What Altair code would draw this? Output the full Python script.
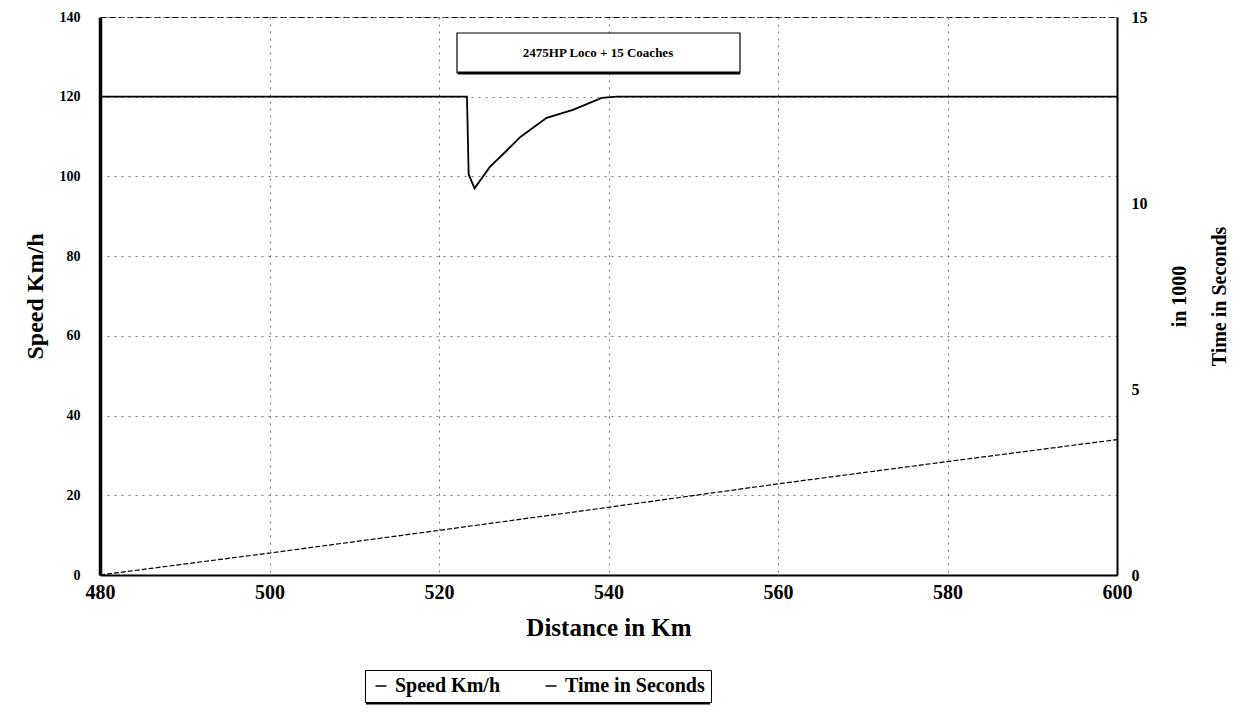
import altair as alt
import pandas as pd

# ---- data ----
speed_dist = [480, 523.3, 523.5, 523.8, 524.2, 526.0, 528.0, 529.6, 532.7, 535.8, 539.2, 541.0, 560, 580, 600]
speed_kmh = [120, 120, 100.5, 99, 97, 102.4, 106.5, 109.9, 114.7, 116.7, 119.7, 120, 120, 120, 120]

time_dist = [480, 500, 520, 540, 560, 580, 600]
time_k_sec = [0, 0.59, 1.2, 1.82, 2.45, 3.05, 3.64]

x_ticks = [480, 500, 520, 540, 560, 580, 600]
speed_ticks = [0, 20, 40, 60, 80, 100, 120, 140]
time_ticks = [0, 5, 10, 15]
series_names = ["Speed Km/h", "Time in Seconds"]
annotation_text = "2475HP Loco + 15 Coaches"

FONT = "Liberation Serif"

speed_df = pd.DataFrame({"dist": speed_dist, "speed": speed_kmh})
time_df = pd.DataFrame({"dist": time_dist, "time": time_k_sec})

common_axis = dict(
    labelFont=FONT, titleFont=FONT, labelFontWeight="bold", titleFontWeight="bold",
    labelColor="black", titleColor="black", domainColor="black",
    gridColor="#777777", gridDash=[2, 5], gridWidth=1, ticks=False, labelFlush=False,
)

x_enc = alt.X(
    "dist:Q",
    scale=alt.Scale(domain=[480, 600], nice=False),
    axis=alt.Axis(
        values=x_ticks, title="Distance in Km", format="d",
        labelFontSize=20, titleFontSize=25, labelPadding=7, titlePadding=13,
        domainWidth=2, grid=True, **common_axis,
    ),
)

color_scale = alt.Scale(domain=series_names, range=["black", "black"])
legend = alt.Legend(
    title=None, orient="none", legendX=265, legendY=653, direction="horizontal",
    strokeColor="black", fillColor="white", padding=6, cornerRadius=0,
    labelFont=FONT, labelFontWeight="bold", labelFontSize=20, labelColor="black",
    symbolType="stroke", symbolSize=120, symbolStrokeWidth=1.5, columnPadding=40,
    labelLimit=300,
)

speed_line = alt.Chart(speed_df).mark_line(strokeWidth=1.8).encode(
    x=x_enc,
    y=alt.Y(
        "speed:Q",
        scale=alt.Scale(domain=[0, 140], nice=False),
        axis=alt.Axis(
            values=speed_ticks, title="Speed Km/h", orient="left",
            labelFontSize=14, titleFontSize=24, labelPadding=20, titlePadding=12,
            domainWidth=3.5, grid=True, **common_axis,
        ),
    ),
    color=alt.Color("series:N", scale=color_scale, legend=legend),
).transform_calculate(series="'Speed Km/h'")

time_line = alt.Chart(time_df).mark_line(strokeWidth=1.2, strokeDash=[5, 2]).encode(
    x=alt.X("dist:Q"),
    y=alt.Y(
        "time:Q",
        scale=alt.Scale(domain=[0, 15], nice=False),
        axis=alt.Axis(
            values=time_ticks, title=["in 1000", "Time in Seconds"], orient="right",
            labelFontSize=16, titleFontSize=20, labelPadding=14, titlePadding=2,
            titleAngle=270, titleLineHeight=40,
            domainWidth=2, grid=False, **common_axis,
        ),
    ),
    color=alt.Color("series:N", scale=color_scale, legend=legend),
).transform_calculate(series="'Time in Seconds'")

ann_df = pd.DataFrame({"label": [annotation_text]})
ann_box = alt.Chart(ann_df).mark_rect(fill="white", stroke="black", strokeWidth=1.2).encode(
    x=alt.value(357), x2=alt.value(640), y=alt.value(16), y2=alt.value(56)
)
ann_shadow = alt.Chart(ann_df).mark_rule(color="black", strokeWidth=3).encode(
    x=alt.value(358), x2=alt.value(640), y=alt.value(56)
)
ann_text = alt.Chart(ann_df).mark_text(
    font=FONT, fontWeight="bold", fontSize=13, color="black", align="center", baseline="middle"
).encode(x=alt.value(498), y=alt.value(36), text="label:N")

legend_shadow = alt.Chart(ann_df).mark_rule(color="black", strokeWidth=3).encode(
    x=alt.value(266), x2=alt.value(610), y=alt.value(686)
)

chart = (
    alt.layer(speed_line, time_line, ann_box, ann_shadow, ann_text, legend_shadow)
    .resolve_scale(y="independent")
    .properties(
        width=1017, height=558,
        autosize=alt.AutoSizeParams(type="none"),
        padding={"left": 92, "top": 9, "right": 115, "bottom": 136},
        background="white",
    )
    .configure_view(stroke="black", strokeDash=[6, 3], strokeWidth=1)
)

chart.save("out.html", embed_options={"renderer": "svg", "actions": False})
